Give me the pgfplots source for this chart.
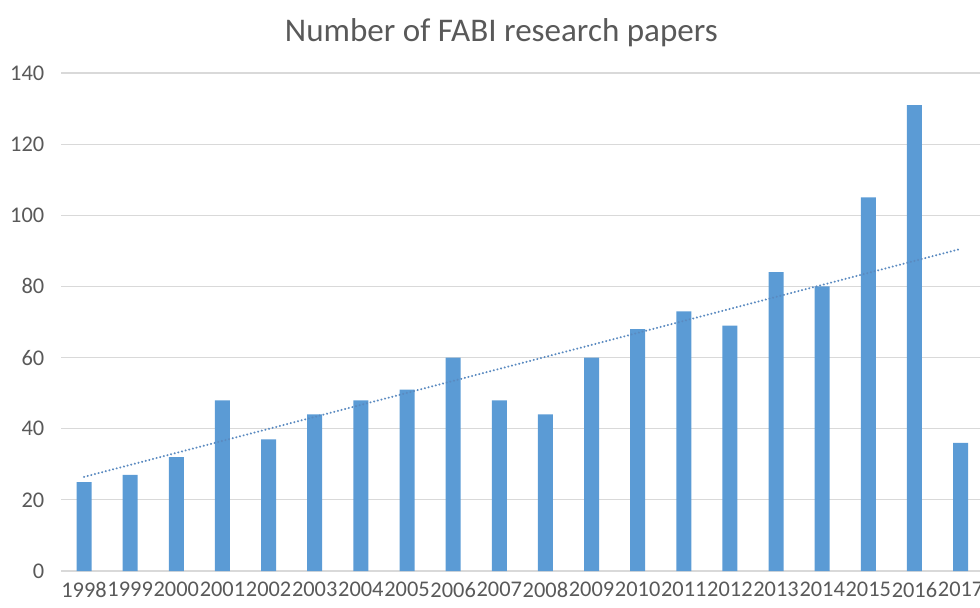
\documentclass[border=0pt]{standalone}
\usepackage{pgfplots}
\pgfplotsset{compat=1.18}
\usepackage{fontspec}
\setmainfont{Carlito}

\definecolor{barblue}{HTML}{5B9BD5}
\definecolor{trendblue}{HTML}{5A8AC0}
\definecolor{gridgray}{HTML}{D9D9D9}
\definecolor{txtgray}{HTML}{595959}

\begin{document}
\begin{tikzpicture}
\path[use as bounding box] (0,0) rectangle (735pt,455.25pt);
\begin{axis}[
  scale only axis,
  width=692pt, height=373.5pt,
  anchor=south west, at={(45.75pt,27pt)},
  ymin=0, ymax=140, ytick={0,20,...,140},
  xmin=-0.5, xmax=19.5,
  xtick={0,...,19},
  xticklabels={1998,1999,2000,2001,2002,2003,2004,2005,2006,2007,2008,2009,2010,2011,2012,2013,2014,2015,2016,2017},
  axis line style={draw=none},
  axis x line*=bottom,
  ymajorgrids, grid style={gridgray, line width=0.9pt},
  major tick length=0pt,
  tick style={draw=none},
  ticklabel style={font=\fontsize{16.8}{18}\selectfont, text=txtgray},
  /pgf/number format/assume math mode=true,
  yticklabel style={xshift=-9pt},
  xticklabel style={yshift=-5pt},
  clip=false,
]
\draw[gridgray, line width=0.9pt] (axis cs:-0.5,0) -- (axis cs:19.5,0);
\addplot[ybar, bar width=11.25pt, fill=barblue, draw=none] coordinates {
  (0,25) (1,27) (2,32) (3,48) (4,37) (5,44) (6,48) (7,51) (8,60) (9,48)
  (10,44) (11,60) (12,68) (13,73) (14,69) (15,84) (16,80) (17,105) (18,131) (19,36)
};
% linear trend of the series
\addplot[trendblue, line width=1.7pt, dash pattern=on 0.01pt off 2.8pt, line cap=round] coordinates {
  (0,26.46) (19,90.55)
};
\end{axis}
\node[text=txtgray, font=\fontsize{24.8}{28}\selectfont] at (376pt,431pt) {Number of FABI research papers};
\end{tikzpicture}
\end{document}
